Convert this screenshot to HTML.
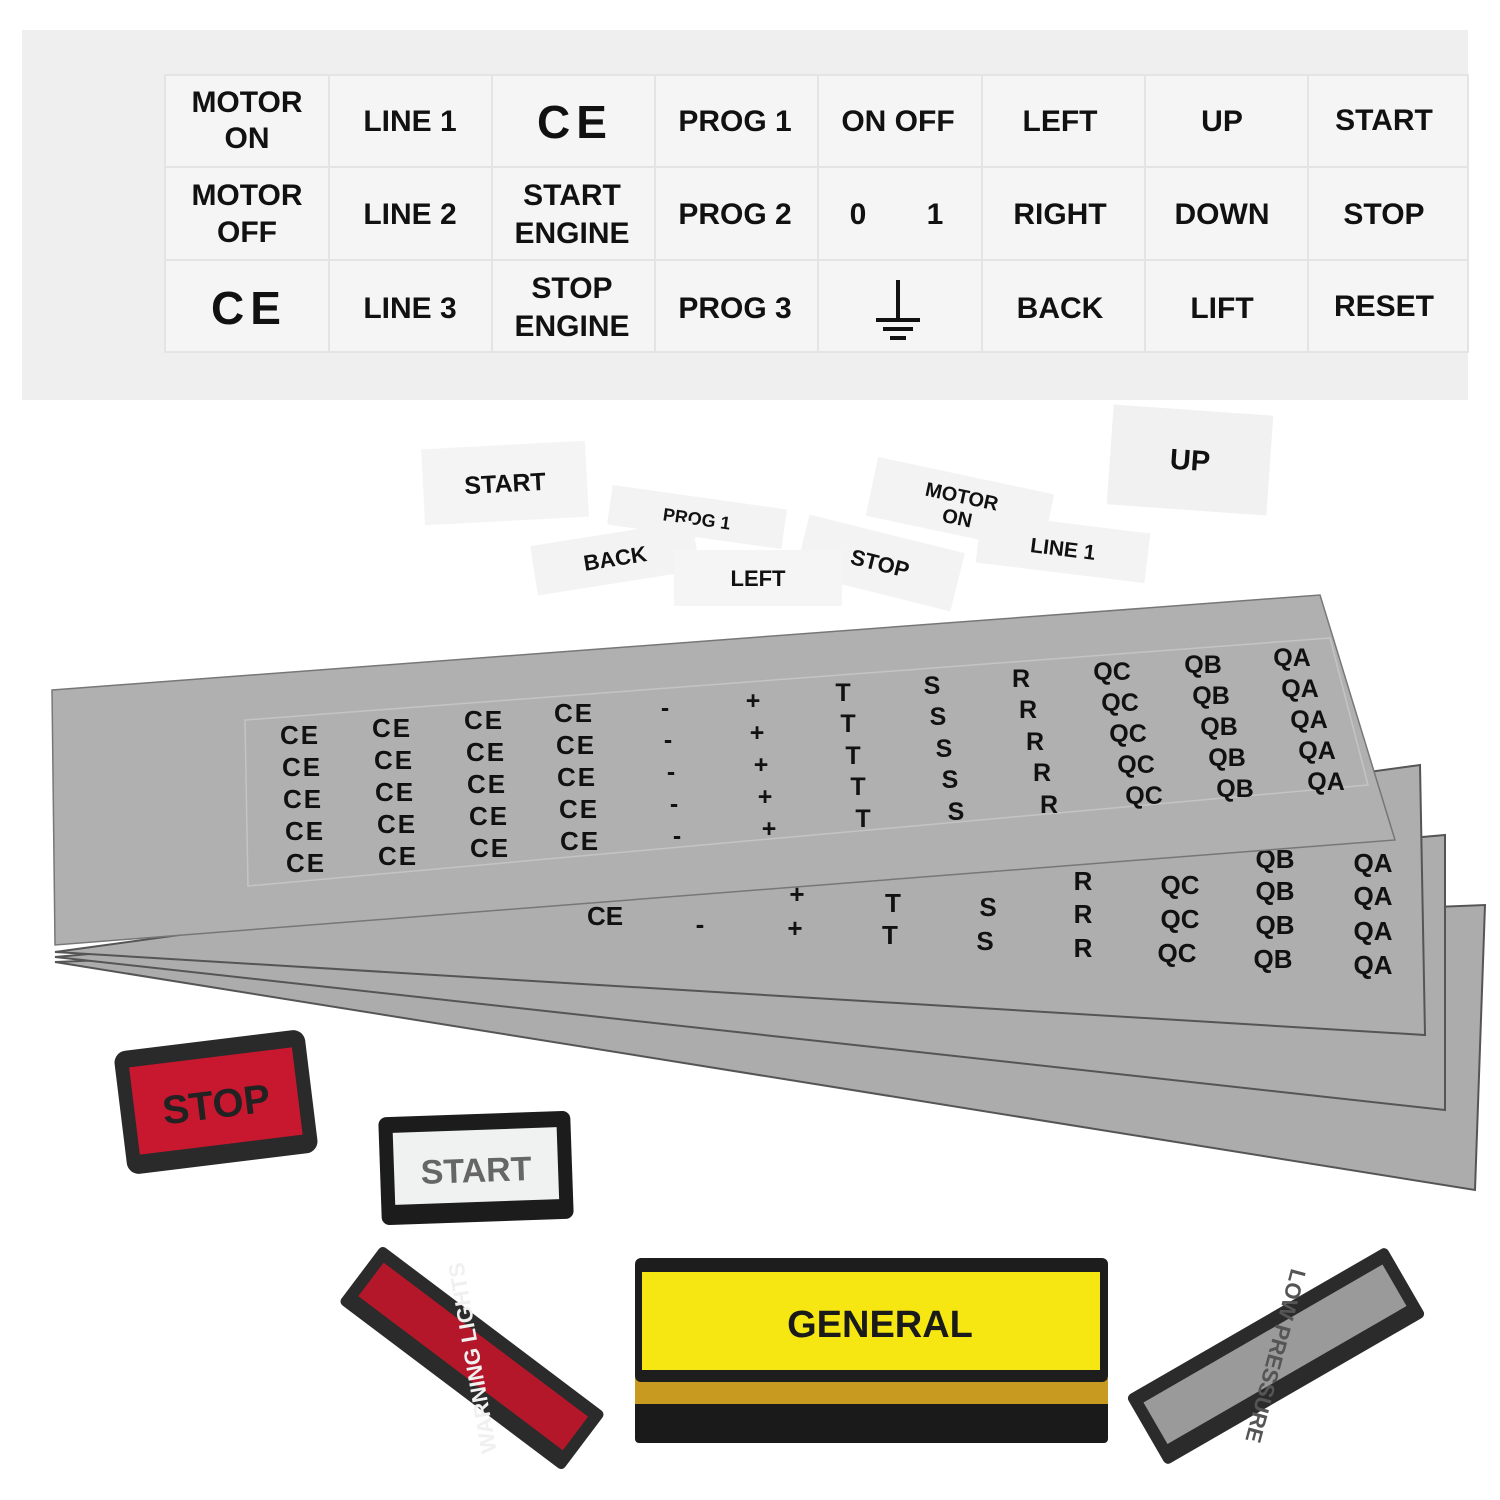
<!DOCTYPE html>
<html><head><style>
html,body{margin:0;padding:0;background:#fff;width:1500px;height:1500px;overflow:hidden}
svg text{font-family:"Liberation Sans",sans-serif;font-weight:bold}
</style></head><body>
<svg width="1500" height="1500" viewBox="0 0 1500 1500">
<rect x="22" y="30" width="1446" height="370" fill="#efefef"/>
<rect x="165" y="75" width="1303" height="277" fill="#f5f5f5" stroke="#e4e4e4" stroke-width="2"/>
<g stroke="#e4e4e4" stroke-width="2">
<line x1="165" y1="167" x2="1468" y2="167"/><line x1="165" y1="260" x2="1468" y2="260"/>
<line x1="329" y1="75" x2="329" y2="352"/><line x1="492" y1="75" x2="492" y2="352"/>
<line x1="655" y1="75" x2="655" y2="352"/><line x1="818" y1="75" x2="818" y2="352"/>
<line x1="982" y1="75" x2="982" y2="352"/><line x1="1145" y1="75" x2="1145" y2="352"/>
<line x1="1308" y1="75" x2="1308" y2="352"/>
</g>
<g font-size="30" fill="#111" text-anchor="middle">
<text x="247" y="112">MOTOR</text><text x="247" y="148">ON</text>
<text x="410" y="131">LINE 1</text>
<text x="575" y="138" font-size="46" font-weight="normal" letter-spacing="6">CE</text>
<text x="735" y="131">PROG 1</text>
<text x="898" y="131">ON  OFF</text>
<text x="1060" y="131">LEFT</text>
<text x="1222" y="131">UP</text>
<text x="1384" y="130">START</text>
<text x="247" y="205">MOTOR</text><text x="247" y="242">OFF</text>
<text x="410" y="224">LINE 2</text>
<text x="572" y="205">START</text><text x="572" y="243">ENGINE</text>
<text x="735" y="224">PROG 2</text>
<text x="858" y="224">0</text><text x="935" y="224">1</text>
<text x="1060" y="224">RIGHT</text>
<text x="1222" y="224">DOWN</text>
<text x="1384" y="224">STOP</text>
<text x="249" y="324" font-size="46" font-weight="normal" letter-spacing="6">CE</text>
<text x="410" y="318">LINE 3</text>
<text x="572" y="298">STOP</text><text x="572" y="336">ENGINE</text>
<text x="735" y="318">PROG 3</text>
<text x="1060" y="318">BACK</text>
<text x="1222" y="318">LIFT</text>
<text x="1384" y="316">RESET</text>
</g>
<g stroke="#111" stroke-width="4">
<line x1="898" y1="280" x2="898" y2="318"/><line x1="876" y1="320" x2="920" y2="320"/>
<line x1="883" y1="329" x2="913" y2="329"/><line x1="890" y1="338" x2="906" y2="338"/>
</g>
<g fill="#111" text-anchor="middle">
<g transform="translate(505,483) rotate(-3)"><rect x="-82" y="-38" width="164" height="76" fill="#f4f4f4"/><text y="9" font-size="25">START</text></g>
<g transform="translate(1190,460) rotate(4)"><rect x="-80" y="-50" width="160" height="100" fill="#f1f1f1"/><text y="10" font-size="29">UP</text></g>
<g transform="translate(697,517) rotate(8)"><rect x="-88" y="-20" width="176" height="40" fill="#f3f3f3"/><text y="8" font-size="18">PROG 1</text></g>
<g transform="translate(960,505) rotate(12)"><rect x="-90" y="-30" width="180" height="60" fill="#f3f3f3"/><text y="-2" font-size="20">MOTOR</text><text y="20" font-size="20">ON</text></g>
<g transform="translate(615,558) rotate(-9)"><rect x="-82" y="-25" width="164" height="50" fill="#f3f3f3"/><text y="8" font-size="22">BACK</text></g>
<g transform="translate(880,563) rotate(14)"><rect x="-80" y="-30" width="160" height="60" fill="#f3f3f3"/><text y="8" font-size="22">STOP</text></g>
<g transform="translate(1063,548) rotate(7)"><rect x="-85" y="-25" width="170" height="50" fill="#f3f3f3"/><text y="8" font-size="21">LINE 1</text></g>
<g transform="translate(758,578)"><rect x="-84" y="-28" width="168" height="56" fill="#f5f5f5"/><text y="8" font-size="22">LEFT</text></g>
</g>
<polygon points="55,962 1485,905 1475,1190" fill="#acacac" stroke="#555" stroke-width="2"/>
<polygon points="55,957 1445,835 1445,1110" fill="#adadad" stroke="#555" stroke-width="2"/>
<polygon points="55,952 1420,765 1425,1035" fill="#aeaeae" stroke="#555" stroke-width="2"/>
<g font-size="26" fill="#111" text-anchor="middle">
<text x="1373" y="872">QA</text><text x="1373" y="905">QA</text><text x="1373" y="940">QA</text><text x="1373" y="974">QA</text>
<text x="1275" y="868">QB</text><text x="1275" y="900">QB</text><text x="1275" y="934">QB</text><text x="1273" y="968">QB</text>
<text x="1180" y="894">QC</text><text x="1180" y="928">QC</text><text x="1177" y="962">QC</text>
<text x="1083" y="890">R</text><text x="1083" y="923">R</text><text x="1083" y="957">R</text>
<text x="988" y="916">S</text><text x="985" y="950">S</text>
<text x="893" y="912">T</text><text x="890" y="944">T</text>
<text x="797" y="903">+</text><text x="795" y="937">+</text>
<text x="700" y="933">-</text><text x="605" y="925" font-weight="normal">CE</text>
</g>
<polygon points="52,690 1320,595 1395,840 55,945" fill="#b0b0b0" stroke="#777" stroke-width="1.5"/>
<polygon points="245,720 1330,638 1368,785 248,886" fill="none" stroke="#c4c4c4" stroke-width="1.5"/>
<g font-size="25" fill="#111" text-anchor="middle">
<g font-weight="normal" font-size="26" letter-spacing="2">
<text x="300" y="744">CE</text><text x="302" y="776">CE</text><text x="303" y="808">CE</text><text x="305" y="840">CE</text><text x="306" y="872">CE</text>
<text x="392" y="737">CE</text><text x="394" y="769">CE</text><text x="395" y="801">CE</text><text x="397" y="833">CE</text><text x="398" y="865">CE</text>
<text x="484" y="729">CE</text><text x="486" y="761">CE</text><text x="487" y="793">CE</text><text x="489" y="825">CE</text><text x="490" y="857">CE</text>
<text x="574" y="722">CE</text><text x="576" y="754">CE</text><text x="577" y="786">CE</text><text x="579" y="818">CE</text><text x="580" y="850">CE</text>
</g>
<text x="665" y="716">-</text><text x="668" y="748">-</text><text x="671" y="780">-</text><text x="674" y="812">-</text><text x="677" y="844">-</text>
<text x="753" y="709">+</text><text x="757" y="741">+</text><text x="761" y="773">+</text><text x="765" y="805">+</text><text x="769" y="837">+</text>
<text x="843" y="701">T</text><text x="848" y="732">T</text><text x="853" y="764">T</text><text x="858" y="795">T</text><text x="863" y="827">T</text>
<text x="932" y="694">S</text><text x="938" y="725">S</text><text x="944" y="757">S</text><text x="950" y="788">S</text><text x="956" y="820">S</text>
<text x="1021" y="687">R</text><text x="1028" y="718">R</text><text x="1035" y="750">R</text><text x="1042" y="781">R</text><text x="1049" y="813">R</text>
<text x="1112" y="680">QC</text><text x="1120" y="711">QC</text><text x="1128" y="742">QC</text><text x="1136" y="773">QC</text><text x="1144" y="804">QC</text>
<text x="1203" y="673">QB</text><text x="1211" y="704">QB</text><text x="1219" y="735">QB</text><text x="1227" y="766">QB</text><text x="1235" y="797">QB</text>
<text x="1292" y="666">QA</text><text x="1300" y="697">QA</text><text x="1309" y="728">QA</text><text x="1317" y="759">QA</text><text x="1326" y="790">QA</text>
</g>
<g transform="translate(216,1102) rotate(-7)">
<rect x="-96" y="-62" width="192" height="124" rx="12" fill="#2a2a2a"/>
<rect x="-82" y="-45" width="164" height="88" fill="#c81830"/>
<text x="0" y="16" font-size="40" text-anchor="middle" fill="#222" font-weight="normal">STOP</text>
</g>
<g transform="translate(476,1168) rotate(-2)">
<rect x="-96" y="-54" width="192" height="108" rx="8" fill="#1c1c1c"/>
<rect x="-82" y="-38" width="164" height="72" fill="#f0f2f2"/>
<text x="0" y="14" font-size="34" text-anchor="middle" fill="#666" font-weight="normal">START</text>
</g>
<rect x="635" y="1395" width="473" height="48" rx="4" fill="#1a1a1a"/>
<rect x="635" y="1378" width="473" height="26" fill="#c99a20"/>
<rect x="635" y="1258" width="473" height="124" rx="6" fill="#1d1d1d"/>
<rect x="642" y="1272" width="458" height="98" fill="#f6e712"/>
<text x="880" y="1337" font-size="38" text-anchor="middle" fill="#1a1a1a" font-weight="normal">GENERAL</text>
<g transform="translate(472,1358) rotate(37)">
<rect x="-140" y="-36" width="280" height="72" rx="5" fill="#2b2b2b"/>
<rect x="-128" y="-23" width="256" height="42" fill="#b5172a"/>
<text x="0" y="0" font-size="22" text-anchor="middle" fill="#f0f0f0" font-weight="normal" transform="rotate(-137) translate(0,8)">WARNING LIGHTS</text>
</g>
<g transform="translate(1276,1356) rotate(-30)">
<rect x="-150" y="-40" width="300" height="80" rx="5" fill="#2b2b2b"/>
<rect x="-138" y="-26" width="276" height="48" fill="#9a9a9a"/>
<text x="0" y="0" font-size="22" text-anchor="middle" fill="#555" font-weight="normal" transform="rotate(135) translate(0,8)">LOW PRESSURE</text>
</g>
</svg>
</body></html>
